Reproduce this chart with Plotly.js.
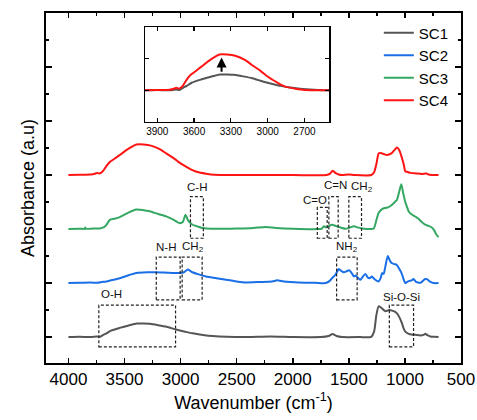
<!DOCTYPE html>
<html>
<head>
<meta charset="utf-8">
<script src="https://cdn.plot.ly/plotly-3.0.1.min.js"></script>
<style>html,body{margin:0;padding:0;background:#fff;}#chart{width:477px;height:420px;}</style>
</head>
<body>
<div id="chart"></div>
<script>
// ---- data (wavenumber in cm^-1, absorbance in arbitrary units) ----
const seriesNames = ["SC1", "SC2", "SC3", "SC4"];
const seriesOffsets = [0, 1, 2, 3];

const sc1Wn = [4000,3900,3800,3745,3720,3690,3660,3620,3543,3470,3390,3330,3275,3200,3125,3040,2960,2895,2800,2715,2590,2400,2200,2000,1750,1680,1645,1610,1560,1400,1300,1275,1255,1235,1215,1174,1140,1115,1090,1071,1050,1027,1010,997,967,930,908,860,835,819,800,774,740,700];
const sc1Abs = [0,0.005,0,0.012,0.005,0.04,0.07,0.12,0.17,0.21,0.25,0.25,0.245,0.22,0.19,0.14,0.1,0.07,0.04,0.02,0.005,0,0.01,0,0,0.02,0.055,0.02,0,0,0.005,0.1,0.4,0.57,0.55,0.48,0.5,0.49,0.47,0.44,0.37,0.26,0.15,0.1,0.06,0.045,0.043,0.03,0.04,0.06,0.035,0.012,0.005,0];

const sc2Wn = [4000,3900,3800,3740,3700,3660,3600,3543,3470,3394,3300,3217,3100,3010,2970,2936,2910,2894,2840,2773,2680,2595,2500,2417,2300,2183,2140,2080,1950,1800,1707,1670,1650,1620,1589,1565,1544,1520,1494,1470,1455,1440,1425,1410,1396,1375,1352,1330,1315,1295,1270,1250,1234,1215,1204,1190,1175,1153,1135,1118,1095,1074,1050,1030,1010,997,980,960,940,923,905,885,860,840,819,800,780,745,700];
const sc2Abs = [0,0.005,0.01,0.005,0.02,0.03,0.06,0.09,0.14,0.185,0.2,0.2,0.19,0.185,0.2,0.25,0.22,0.2,0.16,0.12,0.09,0.06,0.03,0.012,0.02,0.03,0.05,0.03,0.01,0.005,0,0.04,0.09,0.15,0.26,0.22,0.2,0.22,0.235,0.17,0.12,0.14,0.11,0.08,0.06,0.12,0.17,0.1,0.09,0.12,0.07,0.04,0.03,0.1,0.185,0.17,0.3,0.5,0.42,0.37,0.35,0.34,0.26,0.185,0.06,0,0.02,0.04,0.05,0.074,0.03,0.01,0.005,0.04,0.074,0.07,0.03,0,0];

const sc3Wn = [4000,3900,3853,3850,3845,3780,3720,3680,3660,3631,3590,3543,3470,3394,3330,3276,3200,3128,3060,3010,2980,2957,2945,2936,2894,2850,2805,2700,2500,2350,2240,2150,2000,1766,1740,1722,1700,1680,1651,1620,1590,1530,1490,1455,1420,1380,1300,1278,1250,1234,1204,1174,1150,1115,1090,1071,1050,1032,1015,997,980,967,945,923,900,879,850,819,790,760,740,720,700];
const sc3Abs = [0,0.005,0.005,0.03,0.005,0.01,0.01,0.04,0.08,0.17,0.19,0.22,0.3,0.36,0.35,0.33,0.28,0.235,0.17,0.11,0.13,0.265,0.22,0.17,0.08,0.05,0.02,0.005,0.01,0.02,0.037,0.02,0.005,0,0.01,0.05,0.03,0.05,0.08,0.06,0.04,0.005,0.03,0.05,0.03,0.01,0,0.01,0.2,0.3,0.37,0.39,0.4,0.45,0.5,0.54,0.7,0.83,0.66,0.5,0.4,0.33,0.28,0.25,0.22,0.19,0.13,0.08,0.06,0.03,-0.02,-0.1,-0.15];

const sc4Wn = [4000,3900,3800,3770,3745,3730,3710,3689,3660,3631,3583,3543,3477,3420,3394,3330,3265,3186,3128,3054,3010,2921,2894,2850,2773,2700,2500,2000,1700,1670,1643,1620,1590,1560,1500,1450,1300,1275,1255,1234,1219,1189,1162,1120,1090,1071,1050,1030,1011,997,982,950,900,850,807,790,760,700];
const sc4Abs = [0,0.005,0.01,0.02,0.04,0.03,0.04,0.08,0.17,0.24,0.31,0.37,0.47,0.54,0.565,0.565,0.545,0.48,0.4,0.3,0.23,0.12,0.09,0.055,0.025,0.005,0,0,0,0.02,0.08,0.04,0.01,0,0.01,0,0,0.05,0.2,0.4,0.41,0.39,0.37,0.4,0.47,0.51,0.46,0.34,0.2,0.07,0.06,0.04,0.03,0.02,0.03,0.01,0,0];

const seriesWn = [sc1Wn, sc2Wn, sc3Wn, sc4Wn];
const seriesAbs = [sc1Abs, sc2Abs, sc3Abs, sc4Abs];
const insetSeries = [0, 3];   // SC1 and SC4 in the inset

// ---- style ----
const colors = ["#555555", "#1a6fe6", "#34a862", "#ff1414"];
const FONT = "Liberation Sans, Arial, sans-serif";

const traces = [];
seriesNames.forEach((name, i) => {
  traces.push({
    x: seriesWn[i],
    y: seriesAbs[i].map(v => v + seriesOffsets[i]),
    type: "scatter", mode: "lines", name: name,
    line: {color: colors[i], width: 2, shape: "spline", smoothing: 0.6},
    xaxis: "x", yaxis: "y"
  });
});
insetSeries.forEach(i => {
  traces.push({
    x: seriesWn[i], y: seriesAbs[i],
    type: "scatter", mode: "lines", name: seriesNames[i], showlegend: false,
    line: {color: colors[i], width: 2, shape: "spline", smoothing: 0.6},
    xaxis: "x2", yaxis: "y2"
  });
});

// ---- group annotation boxes (data coords) ----
const boxes = [
  {x0: 3729, x1: 3045, y0: -0.18, y1: 0.59, label: "O-H", lx: 3616, ly: 0.8},
  {x0: 3217, x1: 3004, y0: 0.69, y1: 1.48, label: "N-H", lx: 3134, ly: 1.66},
  {x0: 2986, x1: 2808, y0: 0.69, y1: 1.48, label: "CH<sub>2</sub>", lx: 2892, ly: 1.66},
  {x0: 1609, x1: 1426, y0: 0.69, y1: 1.48, label: "NH<sub>2</sub>", lx: 1515, ly: 1.66},
  {x0: 1139, x1: 923, y0: -0.18, y1: 0.59, label: "Si-O-Si", lx: 1032, ly: 0.74},
  {x0: 2912, x1: 2797, y0: 1.83, y1: 2.6, label: "C-H", lx: 2856, ly: 2.78},
  {x0: 1781, x1: 1693, y0: 1.83, y1: 2.4, label: "C=O", lx: 1805, ly: 2.53},
  {x0: 1678, x1: 1595, y0: 1.83, y1: 2.6, label: "C=N", lx: 1618, ly: 2.81},
  {x0: 1500, x1: 1387, y0: 1.83, y1: 2.6, label: "CH<sub>2</sub>", lx: 1380, ly: 2.78}
];

const shapes = boxes.map(b => ({
  type: "rect", xref: "x", yref: "y", x0: b.x0, x1: b.x1, y0: b.y0, y1: b.y1,
  line: {color: "#222", width: 1.2, dash: "3px,2px"}, fillcolor: "rgba(0,0,0,0)"
}));
const annotations = boxes.map(b => ({
  xref: "x", yref: "y", x: b.lx, y: b.ly, text: b.label, showarrow: false,
  font: {family: FONT, size: 11.5, color: "#111"}
}));
annotations.push({
  xref: "x2", yref: "y2", axref: "x2", ayref: "y2",
  x: 3376, y: 0.52, ax: 3376, ay: 0.27, text: "", showarrow: true,
  arrowhead: 2, arrowsize: 1, arrowwidth: 2, arrowcolor: "#000"
});

const layout = {
  width: 477, height: 420,
  margin: {l: 46, r: 16, t: 13, b: 57},
  paper_bgcolor: "#fff", plot_bgcolor: "#fff",
  font: {family: FONT, color: "#000"},
  showlegend: true,
  legend: {x: 0.802, y: 0.99, xanchor: "left", yanchor: "top",
           font: {family: FONT, size: 15, color: "#000"},
           bgcolor: "rgba(0,0,0,0)", borderwidth: 0, tracegroupgap: 0},
  xaxis: {
    range: [4200, 500], autorange: false,
    tickvals: [4000,3500,3000,2500,2000,1500,1000,500],
    ticktext: ["4000","3500","3000","2500","2000","1500","1000","500"],
    ticks: "inside", ticklen: 5, tickwidth: 1.5, tickcolor: "#000",
    minor: {dtick: 250, tick0: 500, ticks: "inside", ticklen: 3, tickwidth: 1.5, tickcolor: "#000"},
    showline: true, linewidth: 2, linecolor: "#000", mirror: "ticks",
    showgrid: false, zeroline: false,
    tickfont: {family: FONT, size: 17, color: "#000"},
    title: {text: "Wavenumber (cm<sup>-1</sup>)", font: {family: FONT, size: 18, color: "#000"}, standoff: 8}
  },
  yaxis: {
    range: [-0.48, 6.0], autorange: false,
    dtick: 1, tick0: 0, showticklabels: false,
    ticks: "inside", ticklen: 6, tickwidth: 1.5, tickcolor: "#000",
    minor: {dtick: 0.5, tick0: 0, ticks: "inside", ticklen: 3, tickwidth: 1.5, tickcolor: "#000"},
    showline: true, linewidth: 2, linecolor: "#000", mirror: "ticks",
    showgrid: false, zeroline: false,
    title: {text: "Absorbance (a.u)", font: {family: FONT, size: 18, color: "#000"}, standoff: 5}
  },
  xaxis2: {
    domain: [0.2386, 0.682], anchor: "y2",
    range: [4000, 2500], autorange: false,
    tickvals: [3900,3600,3300,3000,2700],
    ticks: "inside", ticklen: 4, tickwidth: 1.2, tickcolor: "#000",
    showline: true, linewidth: 1.5, linecolor: "#000", mirror: "ticks",
    showgrid: false, zeroline: false,
    tickfont: {family: FONT, size: 10, color: "#000"}
  },
  yaxis2: {
    domain: [0.6886, 0.96], anchor: "x2",
    range: [-0.5, 1.0], autorange: false,
    dtick: 0.5, tick0: 0, showticklabels: false,
    ticks: "inside", ticklen: 4, tickwidth: 1.2, tickcolor: "#000",
    showline: true, linewidth: 1.5, linecolor: "#000", mirror: "ticks",
    showgrid: false, zeroline: false
  },
  shapes: shapes,
  annotations: annotations
};

Plotly.newPlot("chart", traces, layout, {displayModeBar: false, staticPlot: true});
</script>
</body>
</html>
